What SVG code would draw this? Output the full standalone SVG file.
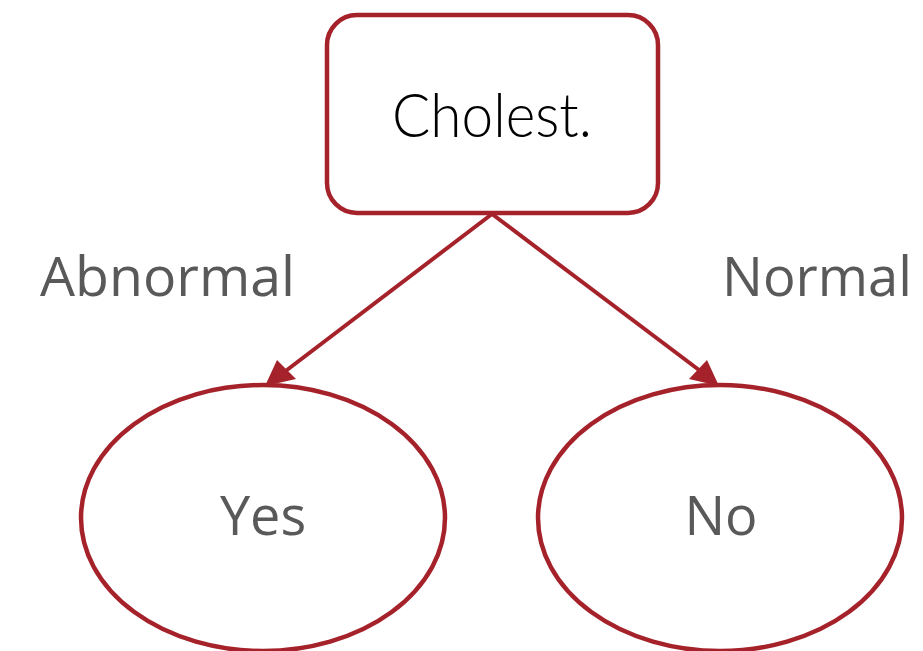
<svg xmlns="http://www.w3.org/2000/svg" width="923" height="651" viewBox="0 0 923 651">
<style>
.n{fill:#fff;stroke:#a5222a;stroke-width:4.5}
.e{stroke:#a5222a;stroke-width:4;fill:none}
.lbl{font-family:"Open Sans","Liberation Sans",sans-serif;font-size:54px;fill:#595959}
.t{font-family:"Lato","Liberation Sans",sans-serif;font-weight:300;font-size:62px;fill:#000}
</style>
<g id="connectors">
<line class="e" x1="492" y1="214" x2="283" y2="373"/>
<path d="M265,386 L277,360 L296,379 z" fill="#a5222a"/>
<line class="e" x1="492" y1="214" x2="703" y2="373"/>
<path d="M719,386 L689,379 L707,360 z" fill="#a5222a"/>
</g>
<g id="cholest">
<rect class="n" x="327" y="15" width="331" height="198" rx="30"/>
<text class="t" x="492" y="137" text-anchor="middle" textLength="200" lengthAdjust="spacingAndGlyphs">Cholest.</text>
</g>
<g id="yes">
<ellipse class="n" cx="263" cy="518" rx="182" ry="133"/>
<text class="lbl" x="263" y="535" text-anchor="middle">Yes</text>
</g>
<g id="no">
<ellipse class="n" cx="720" cy="518" rx="182" ry="133"/>
<text class="lbl" x="721" y="535" text-anchor="middle">No</text>
</g>
<text class="lbl" x="40" y="296" textLength="255" lengthAdjust="spacingAndGlyphs">Abnormal</text>
<text class="lbl" x="722" y="296" textLength="190" lengthAdjust="spacingAndGlyphs">Normal</text>
</svg>
